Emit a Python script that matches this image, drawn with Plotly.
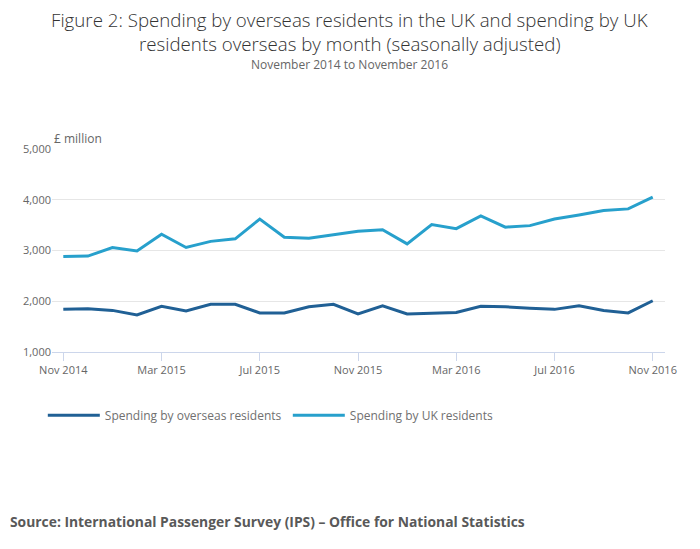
import plotly.graph_objects as go

# months Nov 2014 .. Nov 2016
months = ["Nov 2014", "Dec 2014", "Jan 2015", "Feb 2015", "Mar 2015", "Apr 2015",
          "May 2015", "Jun 2015", "Jul 2015", "Aug 2015", "Sep 2015", "Oct 2015",
          "Nov 2015", "Dec 2015", "Jan 2016", "Feb 2016", "Mar 2016", "Apr 2016",
          "May 2016", "Jun 2016", "Jul 2016", "Aug 2016", "Sep 2016", "Oct 2016",
          "Nov 2016"]

overseas_residents = [1840, 1850, 1820, 1730, 1900, 1810, 1940, 1940, 1770, 1770,
                      1890, 1940, 1750, 1910, 1750, 1770, 1780, 1900, 1890, 1860,
                      1840, 1910, 1820, 1770, 2010]

uk_residents = [2880, 2890, 3060, 2990, 3320, 3060, 3180, 3230, 3620, 3260,
                3240, 3310, 3380, 3410, 3130, 3510, 3430, 3680, 3460, 3490,
                3620, 3700, 3790, 3820, 4050]

tick_labels = months[::4]

title_lines = ["Figure 2: Spending by overseas residents in the UK and spending by UK",
               "residents overseas by month (seasonally adjusted)"]

font = "Open Sans, Noto Sans, sans-serif"

fig = go.Figure()
fig.add_trace(go.Scatter(x=months, y=overseas_residents, mode="lines",
                         name="Spending by overseas residents",
                         line={"color": "#206095", "width": 3}))
fig.add_trace(go.Scatter(x=months, y=uk_residents, mode="lines",
                         name="Spending by UK residents",
                         line={"color": "#27a0cc", "width": 3}))

# title lines placed one by one to get the tight line spacing
annotations = []
for line, shift in zip(title_lines, [130, 106]):
    annotations.append({"text": line, "xref": "paper", "yref": "paper",
                        "x": 0.486, "xanchor": "center", "y": 1.0, "yshift": shift,
                        "yanchor": "middle", "showarrow": False,
                        "font": {"size": 18.7, "color": "#333333", "weight": 300}})

annotations += [
    {"text": "November 2014 to November 2016", "xref": "paper", "yref": "paper",
     "x": 0.486, "xanchor": "center", "y": 1.0, "yshift": 85, "yanchor": "middle",
     "showarrow": False, "font": {"size": 12, "color": "#666666"}},
    {"text": "£ million", "xref": "paper", "yref": "paper",
     "x": 0, "xanchor": "left", "y": 1.0, "yanchor": "bottom", "yshift": 0,
     "showarrow": False, "font": {"size": 12, "color": "#666666"}},
    {"text": "<b>Source: International Passenger Survey (IPS) – Office for National Statistics</b>",
     "xref": "paper", "yref": "paper", "x": 0, "xshift": -44, "xanchor": "left",
     "y": 0, "yshift": -169, "yanchor": "middle",
     "showarrow": False, "font": {"size": 13.85, "color": "#595959"}},
]

# page has an 8px body margin, so the figure is a bit smaller than the window
fig.update_layout(
    width=692, height=541,
    paper_bgcolor="white", plot_bgcolor="white",
    margin={"l": 44, "r": 35, "t": 141, "b": 197, "autoexpand": False},
    font={"family": font, "color": "#666666", "size": 11},
    showlegend=True,
    legend={"orientation": "h", "x": -0.015, "xanchor": "left", "y": -0.24, "yanchor": "top",
            "font": {"size": 12, "color": "#707070"}, "itemwidth": 52,
            "entrywidth": 178, "traceorder": "normal"},
    xaxis={"type": "category", "range": [-0.46, 24.5], "automargin": False,
           "tickvals": tick_labels, "ticktext": tick_labels,
           "showgrid": False, "showline": True, "linecolor": "#ccd6eb", "linewidth": 1,
           "ticks": "outside", "ticklen": 8, "tickcolor": "#ccd6eb",
           "tickfont": {"size": 11, "color": "#666666"}},
    yaxis={"range": [1000, 5000], "dtick": 1000, "tickformat": ",", "automargin": False,
           "showgrid": True, "gridcolor": "#e6e6e6", "zeroline": False,
           "ticks": "", "tickfont": {"size": 11, "color": "#666666"}},
    annotations=annotations,
)

fig.write_html("out.html")
